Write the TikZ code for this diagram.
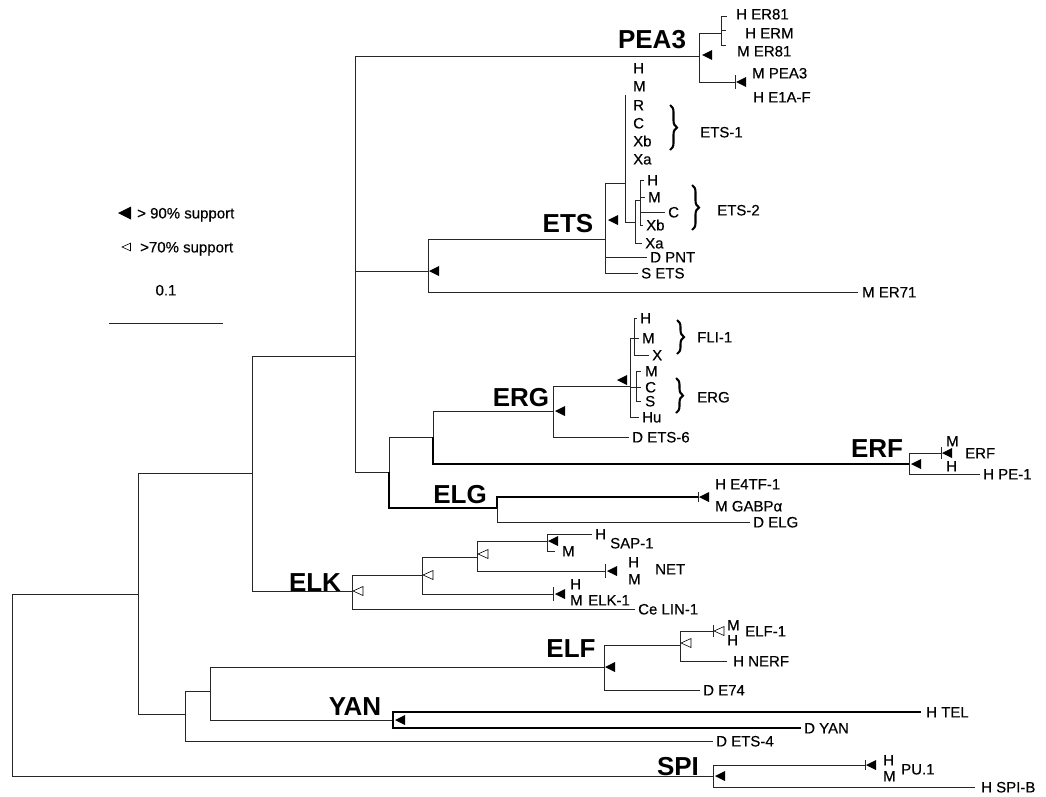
\documentclass[tikz,border=0pt]{standalone}
\usepackage{fontspec}
\setmainfont{Liberation Sans}
\newfontfamily\labelfont{Liberation Sans}[FakeBold=0.35]
\usetikzlibrary{decorations.pathreplacing}
\tikzset{
  edgeline/.style={line width=0.8pt, draw=black!85},
  edgebold/.style={line width=1.15pt, draw=black},
  leaf/.style={font=\labelfont\fontsize{15}{16}\selectfont, inner sep=0pt, text height=10.8pt, text depth=0pt, anchor=west},
  grouplabel/.style={font=\fontsize{26}{26}\selectfont\bfseries, inner sep=0pt, text height=18.7pt, text depth=0pt, anchor=center},
  bracelabel/.style={decorate, decoration={brace, amplitude=7pt}, line width=2.1pt},
  ftri/.pic={\fill[black] (0,0) -- (10,-5) -- (10,5) -- cycle;},
  otri/.pic={\draw[line width=0.6pt, fill=white] (0,0) -- (10,-4.5) -- (10,4.5) -- cycle;},
}
\begin{document}
\begin{tikzpicture}[x=1pt,y=-1pt]
\fill[white] (0,0) rectangle (1046,796);
\useasboundingbox (0,0) rectangle (1046,796);

% ---------- internal nodes ----------
\coordinate (root) at (12,685);
\coordinate (nA) at (138,594);
\coordinate (nB) at (252,473);
\coordinate (nC) at (185,714);
\coordinate (nD) at (355,356);
\coordinate (pea) at (699,56);
\coordinate (pea1) at (721,33);
\coordinate (pea1t) at (721,16);
\coordinate (pea1b) at (721,45);
\coordinate (pea2) at (735,82);
\coordinate (etsg) at (428,271);
\coordinate (ets) at (605,239);
\coordinate (ets12) at (625,183);
\coordinate (e1top) at (625,95);
\coordinate (ets2) at (635,222);
\coordinate (ets2s) at (640,200);
\coordinate (nE) at (389,472);
\coordinate (erger) at (433,437);
\coordinate (erg) at (553,411);
\coordinate (fe) at (630,386);
\coordinate (fli) at (634,338);
\coordinate (ergc) at (636,387);
\coordinate (erf) at (909,464);
\coordinate (erfc) at (941,453);
\coordinate (elg) at (497,508);
\coordinate (gabp) at (698,497);
\coordinate (elk) at (352,591);
\coordinate (k1) at (422,575);
\coordinate (k2) at (477,557);
\coordinate (sap) at (547,541);
\coordinate (net) at (605,571);
\coordinate (elk1) at (553,594);
\coordinate (ye) at (210,691);
\coordinate (elf) at (604,667);
\coordinate (el2) at (680,645);
\coordinate (elf1) at (713,631);
\coordinate (yan) at (393,720);
\coordinate (spi) at (713,776);
\coordinate (pu1) at (865,765);
\coordinate (sb1) at (109,323);
\coordinate (sb2) at (223,323);

% ---------- leaf labels ----------
\node[leaf] (lER81) at (736,14) {H ER81};
\node[leaf] (lERM) at (745,33) {H ERM};
\node[leaf] (lMER81) at (737,51) {M ER81};
\node[leaf] (lMPEA3) at (752,73) {M PEA3};
\node[leaf] (lE1AF) at (753,97) {H E1A-F};

\node[leaf] (e1H) at (633,68) {H};
\node[leaf] (e1M) at (633,86) {M};
\node[leaf] (e1R) at (633,105) {R};
\node[leaf] (e1C) at (633,123) {C};
\node[leaf] (e1Xb) at (633,141) {Xb};
\node[leaf] (e1Xa) at (633,159) {Xa};
\node[leaf] (e2H) at (647,180) {H};
\node[leaf] (e2M) at (648,197) {M};
\node[leaf] (e2C) at (668,212) {C};
\node[leaf] (e2Xb) at (646,225) {Xb};
\node[leaf] (e2Xa) at (645,243) {Xa};
\node[leaf] (lPNT) at (650,257) {D PNT};
\node[leaf] (lSETS) at (641,273) {S ETS};
\node[leaf] (lER71) at (862,292) {M ER71};
\node[leaf] (lETS1) at (700,132) {ETS-1};
\node[leaf] (lETS2) at (717,210) {ETS-2};

\node[leaf] (fH) at (640,318) {H};
\node[leaf] (fM) at (642,338) {M};
\node[leaf] (fX) at (652,355) {X};
\node[leaf] (gM) at (645,371) {M};
\node[leaf] (gC) at (645,387) {C};
\node[leaf] (gS) at (645,401) {S};
\node[leaf] (gHu) at (642,417) {Hu};
\node[leaf] (lETS6) at (632,437) {D ETS-6};
\node[leaf] (lFLI) at (697,337) {FLI-1};
\node[leaf] (lERG) at (697,397) {ERG};

\node[leaf] (rM) at (946,441) {M};
\node[leaf] (rH) at (946,466) {H};
\node[leaf] (lERF) at (965,453) {ERF};
\node[leaf] (lPE1) at (983,474) {H PE-1};

\node[leaf] (lE4TF) at (715,484) {H E4TF-1};
\node[leaf] (lGABP) at (715,506) {M GABPα};
\node[leaf] (lDELG) at (753,522) {D ELG};

\node[leaf] (sH) at (595,534) {H};
\node[leaf] (sM) at (562,551) {M};
\node[leaf] (lSAP) at (610,543) {SAP-1};
\node[leaf] (nH) at (628,562) {H};
\node[leaf] (nM) at (628,579) {M};
\node[leaf] (lNET) at (655,569) {NET};
\node[leaf] (kH) at (570,584) {H};
\node[leaf] (kM) at (570,600) {M};
\node[leaf] (lELK1) at (588,600) {ELK-1};
\node[leaf] (lLIN) at (638,609) {Ce LIN-1};

\node[leaf] (fM1) at (727,625) {M};
\node[leaf] (fH1) at (727,640) {H};
\node[leaf] (lELF1) at (745,631) {ELF-1};
\node[leaf] (lNERF) at (733,661) {H NERF};
\node[leaf] (lE74) at (703,690) {D E74};

\node[leaf] (lTEL) at (926,712) {H TEL};
\node[leaf] (lDYAN) at (804,728) {D YAN};
\node[leaf] (lETS4) at (716,741) {D ETS-4};

\node[leaf] (pH) at (883,760) {H};
\node[leaf] (pM) at (883,776) {M};
\node[leaf] (lPU1) at (901,769) {PU.1};
\node[leaf] (lSPIB) at (981,787) {H SPI-B};

% legend
\node[leaf] (lg90) at (137,213) {> 90\% support};
\node[leaf] (lg70) at (140,247) {>70\% support};
\node[leaf, anchor=center] (lgsc) at (166,290) {0.1};

% group labels
\node[grouplabel] (gPEA3) at (652,39) {PEA3};
\node[grouplabel] (gETS) at (568,223) {ETS};
\node[grouplabel] (gERG) at (521,397) {ERG};
\node[grouplabel] (gERF) at (877,448) {ERF};
\node[grouplabel] (gELG) at (460,494) {ELG};
\node[grouplabel] (gELK) at (315,582) {ELK};
\node[grouplabel] (gELF) at (571,648) {ELF};
\node[grouplabel] (gYAN) at (355,706) {YAN};
\node[grouplabel] (gSPI) at (678,766) {SPI};

% ---------- branches ----------
\draw[edgeline] (root) |- (nA);
\draw[edgeline] (root) |- (spi);
\draw[edgeline] (nA) |- (nB);
\draw[edgeline] (nA) |- (nC);
\draw[edgeline] (nB) |- (nD);
\draw[edgeline] (nB) |- (elk);
\draw[edgeline] (nD) |- (pea);
\draw[edgeline] (nD) |- (etsg);
\draw[edgeline] (nD) |- (nE);

% PEA3
\draw[edgeline] (pea) |- (pea1);
\draw[edgeline] (pea) |- (pea2);
\draw[edgeline] (pea1t) -- (pea1b);
\draw[edgeline] (pea1t) -- ++(6,0);
\draw[edgeline] (pea1) ++(0,-3) -- ++(5,0);
\draw[edgeline] (pea1b) -- ++(5,0);
\draw[edgeline] (pea2) ++(0,-7) -- ++(0,14);

% ETS
\draw[edgeline] (etsg) |- (ets);
\draw[edgeline] (etsg) |- ([xshift=-4pt]lER71.west);
\draw[edgeline] (ets) |- (ets12);
\draw[edgeline] (ets) |- ([xshift=-3pt]lPNT.west);
\draw[edgeline] (ets) |- ([xshift=-3pt]lSETS.west);
\draw[edgeline] (ets12) -- (e1top);
\draw[edgeline] (ets12) |- (ets2);
\draw[edgeline] (ets2) |- (ets2s);
\draw[edgeline] (ets2) |- ([xshift=-3pt]e2Xa.west);
\draw[edgeline] (ets2s) |- ([xshift=-3pt]e2H.west);
\draw[edgeline] (ets2s) |- ([xshift=-3pt]e2M.west);
\draw[edgeline] (ets2s) |- ([xshift=-3pt]e2C.west);
\draw[edgeline] (ets2s) |- ([xshift=-3pt]e2Xb.west);

% ERG / ERF / ELG
\draw[edgeline] (nE) |- (erger);
\draw[edgebold] (nE) |- (elg);
\draw[edgeline] (erger) |- (erg);
\draw[edgebold] (erger) |- (erf);
\draw[edgeline] (erg) |- (fe);
\draw[edgeline] (erg) |- ([xshift=-3pt]lETS6.west);
\draw[edgeline] (fe) |- (fli);
\draw[edgeline] (fe) |- (ergc);
\draw[edgeline] (fe) |- ([xshift=-3pt]gHu.west);
\draw[edgeline] (fli) |- ([xshift=-3pt]fH.west);
\draw[edgeline] (fli) |- ([xshift=-3pt]fM.west);
\draw[edgeline] (fli) |- ([xshift=-3pt]fX.west);
\draw[edgeline] (ergc) |- ([xshift=-4pt]gM.west);
\draw[edgeline] (ergc) |- ([xshift=-4pt]gC.west);
\draw[edgeline] (ergc) |- ([xshift=-4pt]gS.west);
\draw[edgeline] (erf) |- (erfc);
\draw[edgeline] (erf) |- ([xshift=-3pt]lPE1.west);
\draw[edgeline] (erfc) ++(0,-6) -- ++(0,12);
\draw[edgebold] (elg) |- (gabp);
\draw[edgeline] (elg) |- ([xshift=-3pt]lDELG.west);
\draw[edgeline] (gabp) ++(0,-5) -- ++(0,10);

% ELK
\draw[edgeline] (elk) |- (k1);
\draw[edgeline] (elk) |- ([xshift=-3pt]lLIN.west);
\draw[edgeline] (k1) |- (k2);
\draw[edgeline] (k1) |- (elk1);
\draw[edgeline] (k2) |- (sap);
\draw[edgeline] (k2) |- (net);
\draw[edgeline] (sap) |- ([xshift=-3pt]sH.west);
\draw[edgeline] (sap) |- ([xshift=-7pt]sM.west);
\draw[edgeline] (net) ++(0,-7) -- ++(0,14);
\draw[edgeline] (elk1) ++(0,-7) -- ++(0,14);

% ELF / YAN
\draw[edgeline] (nC) |- (ye);
\draw[edgeline] (nC) |- ([xshift=-3pt]lETS4.west);
\draw[edgeline] (ye) |- (elf);
\draw[edgeline] (ye) |- (yan);
\draw[edgeline] (elf) |- (el2);
\draw[edgeline] (elf) |- ([xshift=-3pt]lE74.west);
\draw[edgeline] (el2) |- (elf1);
\draw[edgeline] (el2) |- ([xshift=-6pt]lNERF.west);
\draw[edgeline] (elf1) ++(0,-6) -- ++(0,12);
\draw[edgebold] (yan) |- ([xshift=-5pt]lTEL.west);
\draw[edgebold] (yan) |- ([xshift=-3pt]lDYAN.west);

% SPI
\draw[edgeline] (spi) |- (pu1);
\draw[edgeline] (spi) |- ([xshift=-6pt]lSPIB.west);
\draw[edgeline] (pu1) ++(0,-5) -- ++(0,10);

% ---------- support markers ----------
\pic at (702,55) {ftri};
\pic at (736,82) {ftri};
\pic at (429,271) {ftri};
\pic at (608,220) {ftri};
\pic at (555,411) {ftri};
\pic at (617,380) {ftri};
\pic at (911,464) {ftri};
\pic at (942,453) {ftri};
\pic at (699,497) {ftri};
\pic at (353,591) {otri};
\pic at (423,575) {otri};
\pic at (478,554) {otri};
\pic at (548,541) {ftri};
\pic at (607,571) {ftri};
\pic at (555,594) {ftri};
\pic at (605,667) {ftri};
\pic at (681,643) {otri};
\pic at (714,631) {otri};
\pic at (395,720) {ftri};
\pic at (715,776) {ftri};
\pic at (866,765) {ftri};

% legend markers and scale bar
\pic[scale=1.3] at (118,213) {ftri};
\pic[scale=0.85] at (122,247) {otri};
\draw[edgeline] (sb1) -- (sb2);

% ---------- braces ----------
\draw[bracelabel] (670,105) -- (670,150);
\draw[bracelabel] (692,185) -- (692,230);
\draw[bracelabel] (677,320) -- (677,354);
\draw[bracelabel] (676,378) -- (676,413);
\end{tikzpicture}
\end{document}
